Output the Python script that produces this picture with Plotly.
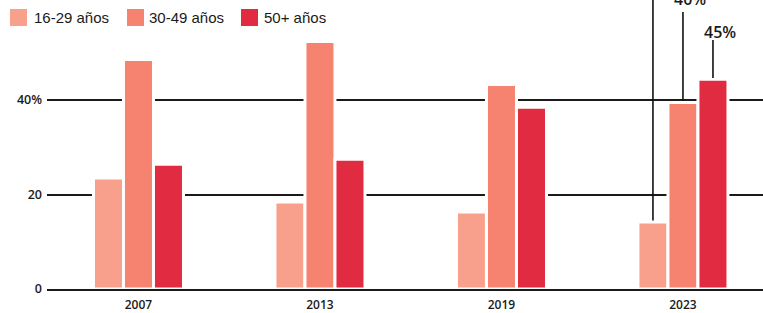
import plotly.graph_objects as go

# ---- data ----
years = ["2007", "2013", "2019", "2023"]
series_names = ["16-29 años", "30-49 años", "50+ años"]
v16_29 = [23.5, 18.4, 16.3, 14.2]
v30_49 = [48.6, 52.4, 43.3, 39.5]
v50p = [26.4, 27.5, 38.5, 44.4]
values = [v16_29, v30_49, v50p]
colors = ["#F8A08B", "#F6836F", "#E12B41"]
y_tickvals = [0, 20, 40]
y_ticktext = ["0", "20", "40%"]
# labels on the last year (the first one lies above the visible area)
last_labels = [None, "40%", "45%"]

# ---- layout geometry ----
W, H = 763, 313
ML, MR, MT, MB = 47, 0, 0, 24
PW, PH = W - ML - MR, H - MT - MB
YMAX = 61.2
XMIN, XMAX = -0.504, 3.441
BARGAP = 0.504
slot = (1 - BARGAP) / 3


def px_to_paper(xp, yp):
    return (xp - ML) / PW, 1 - (yp - MT) / PH


def ypx_to_data(yp):
    return (MT + PH - yp) / PH * YMAX


fig = go.Figure()
for name, vals, col in zip(series_names, values, colors):
    fig.add_trace(go.Bar(
        x=list(range(len(years))), y=vals, name=name,
        marker=dict(color=col, line=dict(color="white", width=3)),
        showlegend=False, hoverinfo="skip",
    ))

# leader lines + labels for last year
line_tops_px = [-5, 12, 40]
label_centers_px = [-30, -1, 32]
last = len(years) - 1
for i in range(3):
    xc = last + (i - 1) * slot
    fig.add_shape(type="line", xref="x", yref="y",
                  x0=xc, x1=xc, y0=values[i][last] + 0.3,
                  y1=ypx_to_data(line_tops_px[i]),
                  line=dict(color="#111111", width=1.6), layer="above")
    if last_labels[i]:
        _, ly = px_to_paper(0, label_centers_px[i])
        fig.add_annotation(x=xc, y=ly, xref="x", yref="paper",
                           text=last_labels[i], showarrow=False, xshift=7,
                           yanchor="middle",
                           font=dict(family="Open Sans", size=16, color="#1a1a1a", weight=600))

# manual legend
sq_x = [10, 127, 241]
txt_x = [32, 147, 262]
for i, name in enumerate(series_names):
    x0, y0 = px_to_paper(sq_x[i], 9)
    x1, y1 = px_to_paper(sq_x[i] + 17, 26)
    fig.add_shape(type="rect", xref="paper", yref="paper",
                  x0=x0, x1=x1, y0=y0, y1=y1,
                  fillcolor=colors[i], line=dict(width=0))
    tx, ty = px_to_paper(txt_x[i], 17)
    fig.add_annotation(x=tx, y=ty, xref="paper", yref="paper", text=name,
                       showarrow=False, xanchor="left", yanchor="middle",
                       font=dict(family="Liberation Sans", size=15, color="#1a1a1a"))

fig.update_layout(
    width=W, height=H,
    margin=dict(l=ML, r=MR, t=MT, b=MB, pad=0),
    paper_bgcolor="white", plot_bgcolor="white",
    barmode="group", bargap=BARGAP, bargroupgap=0,
    showlegend=False,
    xaxis=dict(range=[XMIN, XMAX], tickvals=list(range(len(years))), ticktext=years,
               showgrid=False, zeroline=False, showline=True, linecolor="#1a1a1a",
               linewidth=2, ticks="", layer="above traces", ticklabelstandoff=4,
               tickfont=dict(family="Open Sans", size=12, color="#1a1a1a", weight=600)),
    yaxis=dict(range=[0, YMAX], tickvals=y_tickvals, ticktext=y_ticktext,
               showgrid=True, gridcolor="#1a1a1a", gridwidth=1.5, zeroline=False,
               ticks="", ticklabelstandoff=4,
               tickfont=dict(family="Open Sans", size=12.5, color="#1a1a1a", weight=600)),
)

fig.write_html("out.html", config={"displayModeBar": False},
               post_script="document.body.style.margin='0';")
